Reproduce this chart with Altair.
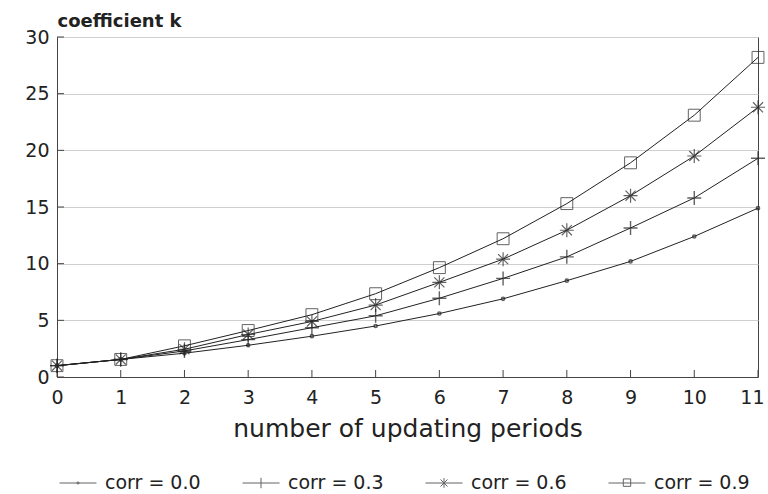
import altair as alt
import pandas as pd

periods = list(range(12))
series_names = ["corr = 0.0", "corr = 0.3", "corr = 0.6", "corr = 0.9"]
k_corr00 = [1.0, 1.55, 2.1, 2.8, 3.6, 4.5, 5.6, 6.9, 8.5, 10.2, 12.4, 14.9]
k_corr03 = [1.0, 1.55, 2.3, 3.3, 4.35, 5.4, 6.95, 8.7, 10.6, 13.15, 15.8, 19.3]
k_corr06 = [1.0, 1.55, 2.45, 3.75, 4.9, 6.35, 8.35, 10.4, 12.95, 16.0, 19.5, 23.8]
k_corr09 = [1.0, 1.55, 2.75, 4.1, 5.5, 7.35, 9.65, 12.2, 15.3, 18.9, 23.1, 28.2]
y_ticks = [0, 5, 10, 15, 20, 25, 30]

rows = []
for name, vals in zip(series_names, [k_corr00, k_corr03, k_corr06, k_corr09]):
    for p, v in zip(periods, vals):
        rows.append({"period": p, "k": v, "series": name})
df = pd.DataFrame(rows)

W, H = 701, 340
FONT = "DejaVu Sans"
TXT = "#222222"

x_scale = alt.Scale(domain=[0, 11], nice=False, zero=False)
y_scale = alt.Scale(domain=[0, 30], nice=False)

marker_paths = [
    "M-0.22,0A0.22,0.22 0 1,0 0.22,0A0.22,0.22 0 1,0 -0.22,0",
    "M-1,0H1M0,-1V1",
    "M-1,0H1M0,-1V1M-0.72,-0.72L0.72,0.72M-0.72,0.72L0.72,-0.72",
    "M-0.85,-0.85H0.85V0.85H-0.85Z",
]
legend_paths = [
    "M-1,0H1M-0.06,0A0.06,0.06 0 1,0 0.06,0A0.06,0.06 0 1,0 -0.06,0",
    "M-1,0H1M0,-0.28V0.28",
    "M-1,0H1M0,-0.26V0.26M-0.19,-0.19L0.19,0.19M-0.19,0.19L0.19,-0.19",
    "M-1,0H1M-0.2,-0.22H0.2V0.18H-0.2Z",
]

base = alt.Chart(df)

lines = base.mark_line(color="#222222", strokeWidth=1).encode(
    x=alt.X(
        "period:Q",
        scale=x_scale,
        axis=alt.Axis(
            values=periods,
            format="d",
            labelFlush=True,
            labelFlushOffset=6,
            tickSize=0,
            labelPadding=11,
            labelFontSize=19,
            labelFont=FONT,
            labelColor=TXT,
            domainColor="#444444",
            grid=False,
            title="number of updating periods",
            titleFont=FONT,
            titleFontSize=25,
            titleFontWeight="normal",
            titleColor=TXT,
            titlePadding=9,
        ),
    ),
    y=alt.Y(
        "k:Q",
        scale=y_scale,
        axis=alt.Axis(
            values=y_ticks,
            format="d",
            tickSize=0,
            labelPadding=8,
            labelFontSize=19,
            labelFont=FONT,
            labelColor=TXT,
            labelFlush=False,
            domainColor="#444444",
            grid=True,
            gridColor="#cfcfcf",
            title="coefficient k",
            titleFont=FONT,
            titleFontSize=18,
            titleFontWeight="bold",
            titleColor=TXT,
            titleAngle=0,
            titleAlign="left",
            titleBaseline="alphabetic",
            titleX=0,
            titleY=-11,
        ),
    ),
    detail="series:N",
)

points = base.mark_point(filled=False, color="#222222", size=196).encode(
    x="period:Q",
    y="k:Q",
    shape=alt.Shape(
        "series:N",
        scale=alt.Scale(domain=series_names, range=marker_paths),
        legend=None,
    ),
    strokeWidth=alt.StrokeWidth(
        "series:N",
        scale=alt.Scale(domain=series_names, range=[1.6, 1, 1.6, 1]),
        legend=None,
    ),
)

legend_layer = base.transform_filter("false").mark_point(
    filled=False, color="#222222", strokeWidth=1
).encode(
    x="period:Q",
    y="k:Q",
    shape=alt.Shape(
        "series:N",
        scale=alt.Scale(domain=series_names, range=legend_paths),
        legend=alt.Legend(
            title=None,
            orient="none",
            legendX=2,
            legendY=427,
            direction="horizontal",
            columns=4,
            symbolSize=1369,
            symbolStrokeWidth=1,
            symbolStrokeColor="#222222",
            labelOffset=8,
            columnPadding=39,
            labelFont=FONT,
            labelFontSize=19,
            labelColor=TXT,
        ),
    ),
)

x_ticks = alt.Chart(pd.DataFrame({"period": periods})).mark_rule(
    color="#444444", strokeWidth=1
).encode(x="period:Q", y=alt.value(H), y2=alt.value(H - 7))

y_tick_marks = alt.Chart(pd.DataFrame({"tick": y_ticks})).mark_rule(
    color="#444444", strokeWidth=1
).encode(y="tick:Q", x=alt.value(0), x2=alt.value(7))

chart = (
    alt.layer(lines, x_ticks, y_tick_marks, points, legend_layer)
    .resolve_scale(shape="independent", strokeWidth="independent")
    .properties(
        width=W,
        height=H,
        autosize=alt.AutoSizeParams(type="none"),
        padding={"left": 57, "top": 37, "right": 10, "bottom": 117},
        background="white",
    )
    .configure_view(stroke="#444444", strokeWidth=1)
)

chart.save("out.html", embed_options={"renderer": "svg", "actions": False})
